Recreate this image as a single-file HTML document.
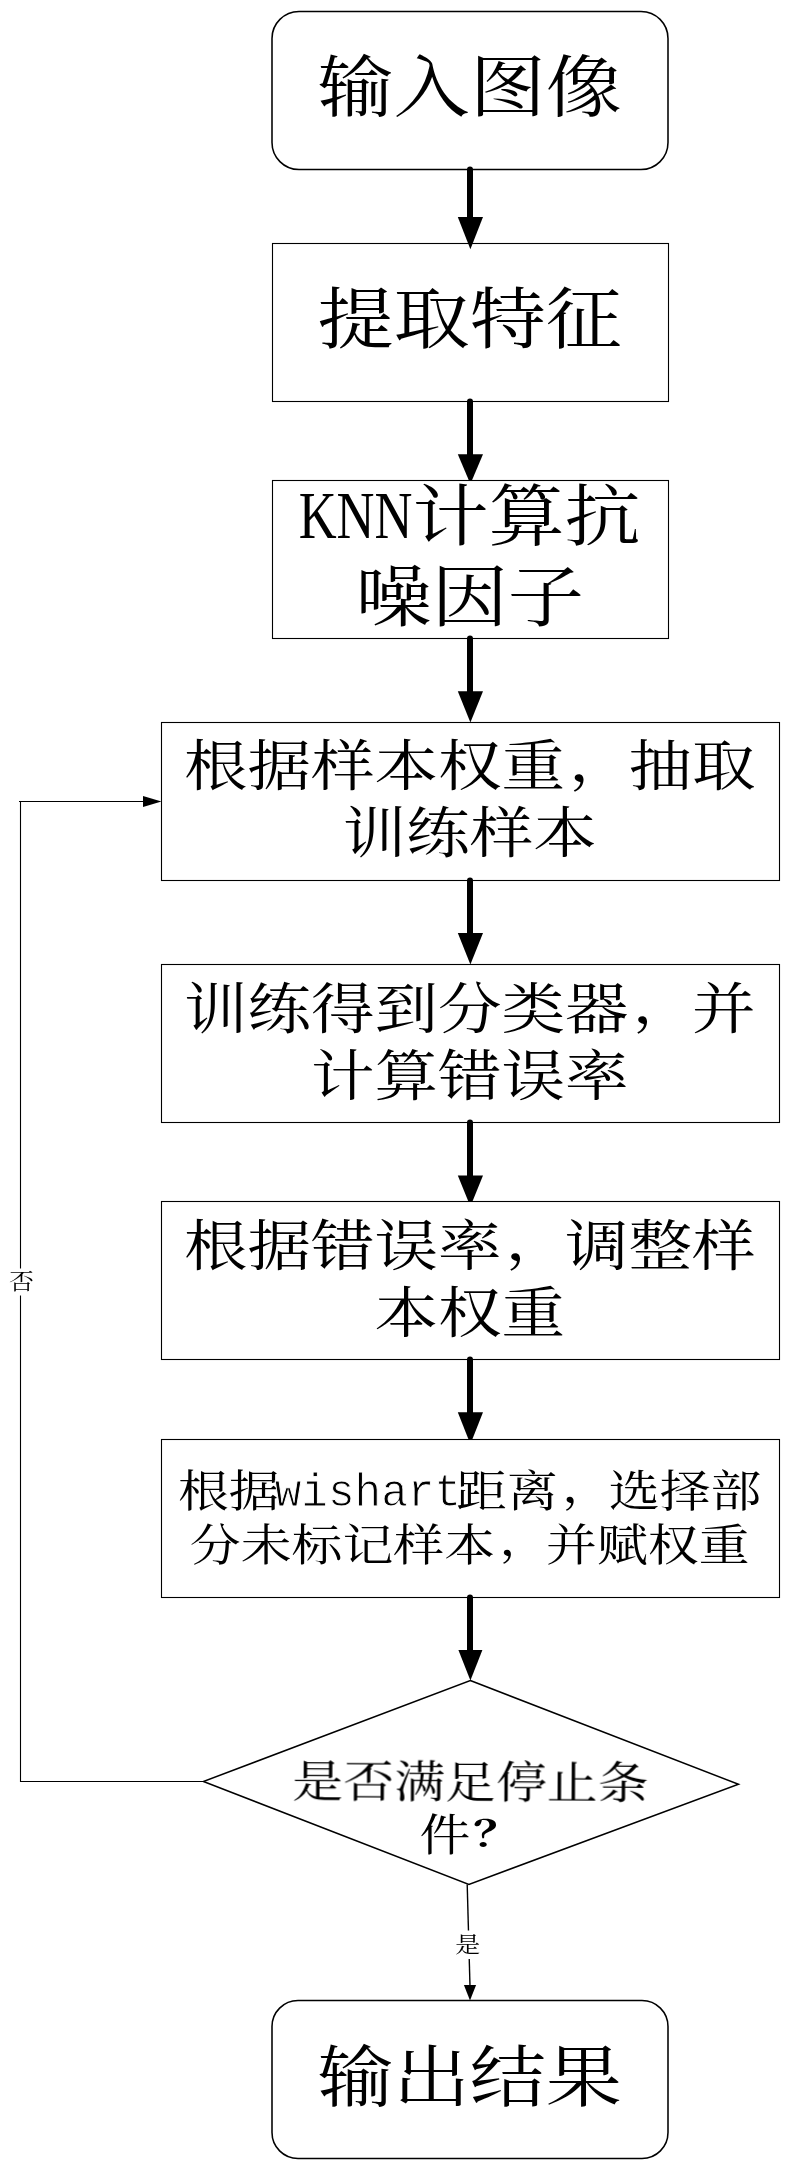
<!DOCTYPE html>
<html lang="zh-CN">
<head>
<meta charset="utf-8">
<title>流程图</title>
<style>
html,body{margin:0;padding:0;background:#fff;}
body{width:793px;height:2171px;overflow:hidden;}
svg{display:block;}
text{font-family:"Liberation Serif","Noto Serif CJK SC",serif;fill:#000;font-weight:400;}
.t75{font-size:75px;}
.t63{font-size:63px;}
.t50{font-size:50.5px;}
.t25{font-size:25px;}
.box{fill:#fff;stroke:#000;stroke-width:1.1;}
.dia{fill:#fff;stroke:#000;stroke-width:1.5;}
.rbox{fill:#fff;stroke:#000;stroke-width:1.55;}
.thick{stroke:#000;stroke-width:6;fill:none;stroke-linecap:round;}
.thin{stroke:#000;stroke-width:1.1;fill:none;}
.mono{font-family:"Liberation Mono",monospace;}
</style>
</head>
<body>
<svg width="793" height="2171" viewBox="0 0 793 2171">
<defs><filter id="ga" x="-5%" y="-20%" width="110%" height="140%"><feOffset dx="0" dy="0"/></filter></defs>
<rect x="0" y="0" width="793" height="2171" fill="#fff"/>

<!-- loop back line -->
<polyline class="thin" points="204,1781.5 20.5,1781.5 20.5,801.5"/><line class="thin" x1="19" y1="801.5" x2="146" y2="801.5"/>
<polygon points="161.5,801.5 143,796 143,807" fill="#000"/>
<rect x="6" y="1268.5" width="30" height="27" fill="#fff"/>
<g filter="url(#ga)" transform="translate(21.6,1289) scale(1.0,0.88)"><text class="t25" x="0" y="0" text-anchor="middle">否</text></g>
<!-- start -->
<rect class="rbox" x="272" y="11.5" width="396" height="158.0" rx="27" ry="27"/>
<g filter="url(#ga)" transform="translate(469.7,111) scale(1.015,0.89)"><text class="t75" x="0" y="0" text-anchor="middle">输入图像</text></g>
<rect class="box" x="272.5" y="243.5" width="396.0" height="158.0"/>
<g filter="url(#ga)" transform="translate(469.7,343.3) scale(1.015,0.89)"><text class="t75" x="0" y="0" text-anchor="middle">提取特征</text></g>
<rect class="box" x="272.5" y="480.5" width="396.0" height="158.0"/>
<g filter="url(#ga)" transform="translate(469.7,539.5) scale(1.015,0.89)"><text class="t75" x="0" y="0" text-anchor="middle"><tspan dy="-1.5" textLength="112" lengthAdjust="spacingAndGlyphs">KNN</tspan><tspan dy="1.5">计算抗</tspan></text></g>
<g filter="url(#ga)" transform="translate(469.7,621) scale(1.015,0.89)"><text class="t75" x="0" y="0" text-anchor="middle">噪因子</text></g>
<rect class="box" x="161.5" y="722.5" width="618.0" height="158.0"/>
<g filter="url(#ga)" transform="translate(469.7,785) scale(1.008,0.875)"><text class="t63" x="0" y="0" text-anchor="middle">根据样本权重<tspan dx="4" dy="-6">，</tspan><tspan dx="-4" dy="6">抽</tspan>取</text></g>
<g filter="url(#ga)" transform="translate(469.7,852) scale(1.008,0.875)"><text class="t63" x="0" y="0" text-anchor="middle">训练样本</text></g>
<rect class="box" x="161.5" y="964.5" width="618.0" height="158.0"/>
<g filter="url(#ga)" transform="translate(469.7,1027.5) scale(1.008,0.875)"><text class="t63" x="0" y="0" text-anchor="middle">训练得到分类器<tspan dx="4" dy="-6">，</tspan><tspan dx="-4" dy="6">并</tspan></text></g>
<g filter="url(#ga)" transform="translate(469.7,1095) scale(1.008,0.875)"><text class="t63" x="0" y="0" text-anchor="middle">计算错误率</text></g>
<rect class="box" x="161.5" y="1201.5" width="618.0" height="158.0"/>
<g filter="url(#ga)" transform="translate(469.7,1264.5) scale(1.008,0.875)"><text class="t63" x="0" y="0" text-anchor="middle">根据错误率<tspan dx="4" dy="-6">，</tspan><tspan dx="-4" dy="6">调</tspan>整样</text></g>
<g filter="url(#ga)" transform="translate(469.7,1332) scale(1.008,0.875)"><text class="t63" x="0" y="0" text-anchor="middle">本权重</text></g>
<rect class="box" x="161.5" y="1439.5" width="618.0" height="158.0"/>
<g filter="url(#ga)" transform="translate(469.7,1507) scale(1.008,0.875)"><text class="t50" x="0" y="0" text-anchor="middle">根据<tspan class="mono" stroke="#fff" stroke-width="1.1" dx="-5" dy="-1.5" font-size="53.5" textLength="185" lengthAdjust="spacingAndGlyphs">wishart</tspan><tspan dx="-5" dy="1.5">距离<tspan dx="4" dy="-6">，</tspan><tspan dx="-4" dy="6">选</tspan>择部</tspan></text></g>
<g filter="url(#ga)" transform="translate(469.7,1560.5) scale(1.008,0.875)"><text class="t50" x="0" y="0" text-anchor="middle">分未标记样本<tspan dx="4" dy="-6">，</tspan><tspan dx="-4" dy="6">并</tspan>赋权重</text></g>
<polygon class="dia" points="470.3,1680.5 738.5,1784.3 468.9,1884.4 203.4,1781.5"/>
<g filter="url(#ga)" transform="translate(470.5,1798) rotate(0.3) scale(1.008,0.875)"><text class="t50" x="0" y="0" text-anchor="middle">是否满足停止条</text></g>
<g filter="url(#ga)" transform="translate(445,1850.5) scale(1.008,0.875)"><text class="t50" x="0" y="0" text-anchor="middle">件</text></g>
<g filter="url(#ga)" transform="translate(497.8,1846) scale(0.96,0.7)"><text class="t50" x="0" y="0" text-anchor="middle"><tspan font-weight="700">？</tspan></text></g>
<line class="thin" style="stroke-width:1.4" x1="467.2" y1="1884.4" x2="470.1" y2="1990"/>
<polygon points="470,2000.5 463.9,1985 476.1,1985" fill="#000"/>
<rect x="452" y="1930.5" width="32" height="28.5" fill="#fff"/>
<g filter="url(#ga)" transform="translate(467.7,1952) scale(1.0,0.88)"><text class="t25" x="0" y="0" text-anchor="middle">是</text></g>
<rect class="rbox" x="272" y="2000.5" width="396" height="158.0" rx="26" ry="26"/>
<g filter="url(#ga)" transform="translate(469.7,2101.2) scale(1.015,0.89)"><text class="t75" x="0" y="0" text-anchor="middle">输出结果</text></g>
<!-- connectors -->
<line class="thick" x1="470.0" y1="169.5" x2="470.0" y2="219"/><polygon points="470.4,249.3 457.8,217 483.0,217" fill="#000"/>
<line class="thick" x1="470.0" y1="401.5" x2="470.0" y2="456.2"/><polygon points="468.92,480.5 457.8,454.2 483.0,454.2 471.88,480.5" fill="#000"/>
<line class="thick" x1="470.0" y1="638.5" x2="470.0" y2="693.3"/><polygon points="470.4,722.6 457.8,691.3 483.0,691.3" fill="#000"/>
<line class="thick" x1="470.0" y1="880.5" x2="470.0" y2="935.1"/><polygon points="470.4,964.5 457.8,933.1 483.0,933.1" fill="#000"/>
<line class="thick" x1="470.0" y1="1122.5" x2="470.0" y2="1177.4"/><polygon points="468.37,1201.5 457.8,1175.4 483.0,1175.4 472.43,1201.5" fill="#000"/>
<line class="thick" x1="470.0" y1="1359.5" x2="470.0" y2="1414.2"/><polygon points="468.55,1439.5 457.8,1412.2 483.0,1412.2 472.25,1439.5" fill="#000"/>
<line class="thick" x1="470.0" y1="1597.5" x2="470.0" y2="1652"/><polygon points="470.4,1680.5 458.4,1650 482.4,1650" fill="#000"/>
</svg>
</body>
</html>
